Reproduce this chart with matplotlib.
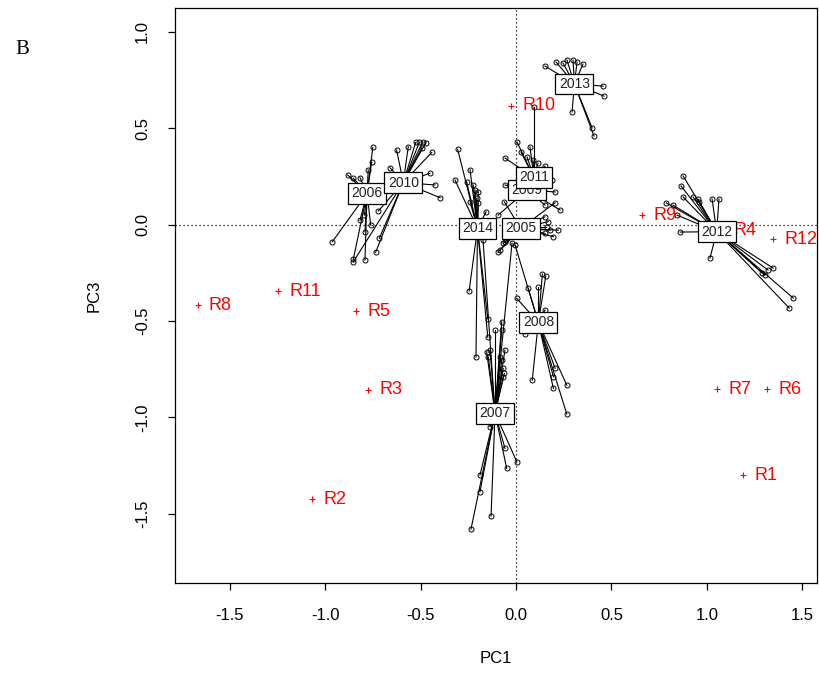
import matplotlib
matplotlib.use("Agg")
import matplotlib.pyplot as plt

plt.rcParams['font.family'] = ['Liberation Sans', 'DejaVu Sans']

# ---- data (PC1, PC3) ----
years = ["2005", "2006", "2007", "2008", "2009", "2010", "2011", "2012", "2013", "2014"]

centroid_pc1 = [0.024, -0.781, -0.110, 0.117, 0.058, -0.591, 0.094, 1.052, 0.306, -0.202]
centroid_pc3 = [-0.020, 0.161, -0.978, -0.508, 0.179, 0.218, 0.244, -0.037, 0.729, -0.020]

pts_pc1 = {
    "2005": [0.152, 0.169, 0.161, 0.178, 0.152, 0.222, 0.196, 0.205, -0.061, -0.084, -0.067, -0.094, -0.058],
    "2006": [-0.751, -0.757, -0.775, -0.883, -0.853, -0.818, -0.963, -0.853, -0.792, -0.792, -0.818, -0.762, -0.795],
    "2007": [-0.154, -0.136, -0.145, -0.084, -0.075, -0.058, -0.067, -0.061, -0.067, -0.110, -0.075, -0.075,
             -0.173, -0.021, -0.136, -0.058, -0.049, 0.004, -0.189, -0.189, -0.131, -0.236],
    "2008": [0.138, 0.156, 0.117, 0.064, 0.152, 0.004, 0.047, 0.085, 0.196, 0.266, 0.266, 0.196, 0.205, -0.005],
    "2009": [0.189, 0.205, -0.058, -0.094, 0.152, 0.231],
    "2010": [-0.661, -0.626, -0.565, -0.526, -0.507, -0.489, -0.473, -0.494, -0.442, -0.451, -0.425, -0.398,
             -0.853, -0.736, -0.717, -0.722],
    "2011": [0.094, 0.005, 0.073, 0.026, 0.058, 0.089, 0.115, 0.152, -0.058],
    "2012": [0.876, 0.865, 0.928, 0.954, 0.960, 0.876, 0.787, 0.823, 0.844, 1.028, 1.064, 0.860, 1.017,
             1.348, 1.321, 1.306, 1.290, 1.453, 1.432],
    "2013": [0.152, 0.210, 0.246, 0.267, 0.299, 0.320, 0.351, 0.456, 0.461, 0.294, 0.399, 0.409],
    "2014": [-0.306, -0.241, -0.320, -0.259, -0.224, -0.215, -0.198, -0.206, -0.198, -0.241, -0.157,
             -0.246, -0.148, -0.148, -0.210],
}
pts_pc3 = {
    "2005": [0.040, 0.015, -0.015, -0.029, -0.046, -0.029, -0.063, 0.113, 0.118, -0.132, -0.098, -0.143, -0.091],
    "2006": [0.400, 0.323, 0.283, 0.257, 0.240, 0.243, -0.089, -0.179, -0.184, -0.037, 0.023, -0.003, 0.049],
    "2007": [-0.660, -0.651, -0.686, -0.686, -0.703, -0.651, -0.746, -0.772, -0.789, -0.547, -0.547, -0.504,
             -0.080, -0.096, -1.049, -1.161, -1.265, -1.230, -1.299, -1.386, -1.512, -1.579],
    "2008": [-0.257, -0.267, -0.323, -0.331, -0.443, -0.383, -0.568, -0.807, -0.850, -0.833, -0.983, -0.789,
             -0.746, -0.106],
    "2009": [0.231, 0.169, 0.205, 0.049, 0.101, 0.075],
    "2010": [0.295, 0.386, 0.404, 0.426, 0.426, 0.429, 0.424, 0.398, 0.374, 0.266, 0.205, 0.139,
             -0.193, -0.144, -0.072, 0.070],
    "2011": [0.609, 0.428, 0.402, 0.376, 0.350, 0.335, 0.319, 0.303, 0.345],
    "2012": [0.252, 0.200, 0.143, 0.132, 0.117, 0.143, 0.112, 0.101, 0.049, 0.132, 0.132, -0.039, -0.174,
             -0.226, -0.236, -0.262, -0.252, -0.381, -0.433],
    "2013": [0.822, 0.843, 0.838, 0.853, 0.853, 0.843, 0.832, 0.718, 0.666, 0.584, 0.501, 0.459],
    "2014": [0.390, 0.283, 0.231, 0.222, 0.205, 0.179, 0.170, 0.136, 0.110, 0.118, 0.066,
             -0.345, -0.490, -0.585, -0.687],
}

regions = ["R1", "R2", "R3", "R4", "R5", "R6", "R7", "R8", "R9", "R10", "R11", "R12"]
region_pc1 = [1.190, -1.070, -0.776, 1.080, -0.839, 1.316, 1.054, -1.668, 0.661, -0.026, -1.248, 1.348]
region_pc3 = [-1.299, -1.424, -0.858, -0.029, -0.449, -0.853, -0.853, -0.418, 0.049, 0.615, -0.345, -0.075]

xticks = [-1.5, -1.0, -0.5, 0.0, 0.5, 1.0, 1.5]
yticks = [-1.5, -1.0, -0.5, 0.0, 0.5, 1.0]

# ---- figure ----
W, H = 820, 674
fig = plt.figure(figsize=(W / 100, H / 100), dpi=100)
ax = fig.add_axes([175 / W, 1 - 583 / H, (817 - 175) / W, (583 - 8) / H])
ax.set_xlim(-1.788, 1.578)
ax.set_ylim(-1.859, 1.123)

ax.axhline(0, color='black', lw=0.9, dashes=(1, 2.2), zorder=1)
ax.axvline(0, color='black', lw=0.9, dashes=(1, 2.2), zorder=1)

# spokes
for i, yr in enumerate(years):
    cx, cy = centroid_pc1[i], centroid_pc3[i]
    for px, py in zip(pts_pc1[yr], pts_pc3[yr]):
        ax.plot([cx, px], [cy, py], color='black', lw=0.8, zorder=2)
# points
for yr in years:
    ax.plot(pts_pc1[yr], pts_pc3[yr], linestyle='none', marker='o', markersize=3.6,
            markerfacecolor='none', markeredgecolor='black', markeredgewidth=0.7, zorder=3)

# region markers and labels
ax.plot(region_pc1, region_pc3, linestyle='none', marker='+', markersize=5,
        markeredgewidth=0.8, color='red', zorder=4)
for name, x, y in zip(regions, region_pc1, region_pc3):
    ax.annotate(name, (x, y), xytext=(8, 0), textcoords='offset points',
                ha='left', va='center', fontsize=13, color='red', zorder=4)

# year labels
for i, yr in enumerate(years):
    ax.text(centroid_pc1[i], centroid_pc3[i], yr, ha='center', va='center', fontsize=10,
            color='#202020', zorder=5,
            bbox=dict(boxstyle='square,pad=0.25', facecolor='white', edgecolor='black', lw=0.9))

# axes styling
ax.set_xticks(xticks)
ax.set_xticklabels([f"{t:.1f}".replace('\u2212', '-') for t in xticks])
ax.set_yticks(yticks)
ax.set_yticklabels([f"{t:.1f}" for t in yticks], rotation=90, va='center')
ax.tick_params(axis='both', direction='out', length=5, width=0.9, labelsize=12, colors='black')
ax.tick_params(axis='x', pad=13)
ax.tick_params(axis='y', pad=13)
for s in ax.spines.values():
    s.set_linewidth(0.9)
ax.set_xlabel("PC1", fontsize=12, labelpad=20)
ax.set_ylabel("PC3", fontsize=12, labelpad=24)

fig.text(15 / W, 1 - 50 / H, "B", family=['Liberation Serif', 'DejaVu Serif'], fontsize=15,
         ha='left', va='center')

fig.savefig("out.png", dpi=100)
